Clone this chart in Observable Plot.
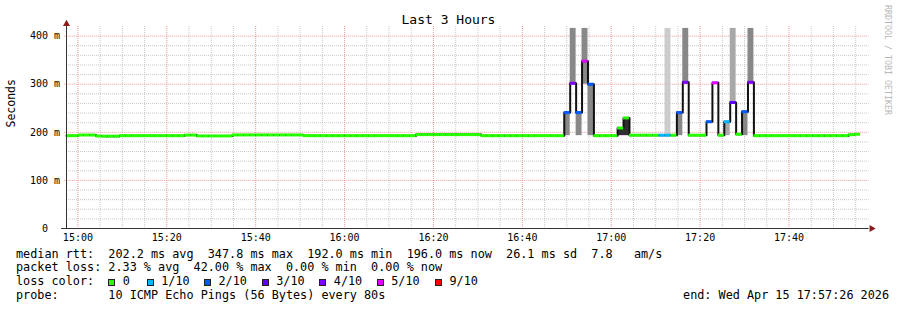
<!DOCTYPE html>
<html>
<head>
<meta charset="utf-8">
<script src="https://cdn.jsdelivr.net/npm/d3@7"></script>
<script src="https://cdn.jsdelivr.net/npm/@observablehq/plot@0.6"></script>
<style>
  body { margin: 0; background: #fff; }
  #wrap { position: relative; width: 897px; height: 310px; overflow: hidden; font-family: "DejaVu Sans Mono", monospace; color: #000; background: #fff; }
  #title { position: absolute; left: 0; top: 12px; width: 897px; text-align: center; font-size: 13px; line-height: 15px; }
  #chart { position: absolute; left: 0; top: 0; }
  #mark { position: absolute; left: 883px; top: 5px; writing-mode: vertical-rl; font-size: 8.3px; line-height: 9px; color: #b8b8b8; white-space: pre; }
  #legend { position: absolute; left: 16px; top: 247.5px; font-size: 11.8px; line-height: 13.8px; white-space: pre; }
  #legend > div { position: relative; height: 13.8px; }
  .item { position: absolute; top: 0; }
  .box { position: absolute; width: 5px; height: 5px; border: 1px solid #222; top: 3.5px; }
  #end { position: absolute; right: 8px; top: 0; font-size: 11.8px; line-height: 13.8px; white-space: pre; }
</style>
</head>
<body>
<div id="wrap">
  <div id="chart"></div>
  <div id="title"></div>
  <div id="mark"></div>
  <div id="legend"></div>
</div>
<script>
// ---------- data ----------
const titleText = "Last 3 Hours";
const yAxisLabel = "Seconds";
const watermark = "RRDTOOL / TOBI OETIKER";
const chartStart = new Date("2026-04-15T14:57:26Z");
const chartEnd = new Date("2026-04-15T17:57:26Z");
const stepSeconds = 80;

// median round-trip time per 80 s step (ms), step 0 starts at chartStart
const medianMs = [
  193, 193, 194.4, 194.4, 194.4, 192.3, 192, 192, 192, 193,
  193, 193, 193, 193, 193, 193, 193, 193, 193, 193,
  194.2, 194.2, 192.5, 192.5, 192.5, 192.5, 192.5, 192.5, 194.6, 194.6,
  194.6, 194.6, 194.6, 194.6, 194.6, 194.6, 194.6, 194.6, 194.6, 194.6,
  193, 193, 193, 193, 193, 193, 193, 193, 193, 193,
  193, 193, 193, 193, 193, 193, 193, 193, 193, 195.2,
  195.2, 195.2, 195.2, 195.2, 195.2, 195.2, 195.2, 195.2, 195.2, 195.2,
  193, 193, 193, 193, 193, 193, 193, 193, 193, 193,
  193, 193, 193, 193, 241, 302, 241, 348, 300, 193,
  193, 193, 193, 209, 230, 194, 194, 194, 194, 194,
  194, 194, 194, 241, 304, 194, 194, 194, 222, 303,
  194, 222, 262, 196, 243, 304, 193, 193, 193, 193,
  193, 193, 193, 193, 193, 193, 193, 193, 193, 193,
  193, 193, 195, 196
];
// lost pings (out of 10) per step
const lossCount = [
  0,0,0,0,0,0,0,0,0,0,
  0,0,0,0,0,0,0,0,0,0,
  0,0,0,0,0,0,0,0,0,0,
  0,0,0,0,0,0,0,0,0,0,
  0,0,0,0,0,0,0,0,0,0,
  0,0,0,0,0,0,0,0,0,0,
  0,0,0,0,0,0,0,0,0,0,
  0,0,0,0,0,0,0,0,0,0,
  0,0,0,0,2,4,2,5,2,0,
  0,0,0,0,0,0,0,0,0,0,
  1,1,0,2,4,0,0,0,2,5,
  0,1,3,0,2,4,0,0,0,0,
  0,0,0,0,0,0,0,0,0,0,
  0,0,0,0
];
// smoke (ping spread) bands
const smokeStep  = [84, 85, 86, 87, 88, 93, 94, 101, 103, 104, 111, 112, 114, 115];
const smokeLow   = [193, 302, 193, 300, 193, 193, 193, 194, 193, 304, 193, 262, 193, 304];
const smokeHigh  = [241, 416, 241, 416, 300, 209, 230, 416, 241, 416, 222, 416, 243, 416];
const smokeShade = ["#888888","#888888","#888888","#888888","#888888","#2e2e2e","#2e2e2e","#cccccc","#888888","#888888","#a8a8a8","#a8a8a8","#888888","#888888"];

const lossLevels = [0, 1, 2, 3, 4, 5, 9];
const lossLabels = ["0", "1/10", "2/10", "3/10", "4/10", "5/10", "9/10"];
const lossColors = ["#26ff00", "#00b8ff", "#0059ff", "#5e00ff", "#7e00ff", "#dd00ff", "#ff0000"];

const xTickLabels = ["15:00", "15:20", "15:40", "16:00", "16:20", "16:40", "17:00", "17:20", "17:40"];
const yTicks = [0, 100, 200, 300, 400];
const yTickLabels = ["0\u00a0\u00a0", "100 m", "200 m", "300 m", "400 m"];
const yMax = 420;

const rttLegend = ["median rtt:", "202.2 ms avg", "347.8 ms max", "192.0 ms min", "196.0 ms now", "26.1 ms sd", "7.8   am/s"];
const lossLegend = ["packet loss: 2.33 % avg", "42.00 % max", "0.00 % min", "0.00 % now"];
const probeText = "probe:       10 ICMP Echo Pings (56 Bytes) every 80s";
const endText = "end: Wed Apr 15 17:57:26 2026";

// ---------- build tables ----------
const stepMs = stepSeconds * 1000;
const steps = medianMs.map((m, i) => ({
  start: new Date(+chartStart + i * stepMs),
  end: new Date(+chartStart + (i + 1) * stepMs),
  median: m,
  color: lossColors[lossLevels.indexOf(lossCount[i])]
}));
const smoke = smokeStep.map((s, i) => ({
  start: new Date(+chartStart + s * stepMs),
  end: new Date(+chartStart + (s + 1) * stepMs),
  lo: smokeLow[i], hi: smokeHigh[i], fill: smokeShade[i]
}));
const xTicks = xTickLabels.map(s => new Date(`2026-04-15T${s}:00Z`));
const fiveMin = d3.utcMinute.every(5).range(chartStart, chartEnd);
const minorX = fiveMin.filter(d => d.getUTCMinutes() % 20 !== 0);
const majorX = fiveMin.filter(d => d.getUTCMinutes() % 20 === 0);
const minorY = d3.range(20, yMax, 20).filter(v => v % 100 !== 0);
const majorY = yTicks.filter(v => v > 0);
const minute = 60000;

const plot = Plot.plot({
  width: 897,
  height: 245,
  marginLeft: 66,
  marginRight: 31,
  marginTop: 26,
  marginBottom: 17,
  style: { fontFamily: "DejaVu Sans Mono, monospace", fontSize: "10px", background: "transparent", color: "#000" },
  x: { type: "utc", domain: [chartStart, chartEnd] },
  y: { domain: [0, yMax] },
  marks: [
    Plot.ruleX(minorX, { stroke: "#c8c8c8", strokeDasharray: "1,1" }),
    Plot.ruleY(minorY, { x1: chartStart, x2: new Date(+chartEnd + 0.6 * minute), stroke: "#c8c8c8", strokeDasharray: "1,1" }),
    Plot.ruleX(majorX, { stroke: "#eb9a9a", strokeDasharray: "1,1" }),
    Plot.ruleY(majorY, { x1: new Date(+chartStart - 0.4 * minute), x2: new Date(+chartEnd + 0.6 * minute), stroke: "#eb9a9a", strokeDasharray: "1,1" }),
    Plot.rect(smoke, { x1: "start", x2: "end", y1: "lo", y2: "hi", fill: "fill" }),
    Plot.line(steps, { x: "start", y: "median", curve: "step-after", stroke: "#111", strokeWidth: 2 }),
    Plot.ruleY(steps, { y: "median", x1: "start", x2: "end", stroke: "color", strokeWidth: 3 }),
    Plot.ruleY([0], { x1: new Date(+chartStart - 1.1 * minute), x2: new Date(+chartEnd + 0.6 * minute), stroke: "#333" }),
    Plot.ruleX([chartStart], { y1: 0, y2: yMax + 4, stroke: "#333" }),
    Plot.dot([chartStart], { x: d => d, y: yMax + 5.5, symbol: "triangle", r: 2.6, fill: "#8b1c1c", stroke: null }),
    Plot.dot([chartEnd], { x: d => new Date(+d + 1.15 * minute), y: 0, symbol: "triangle", r: 2.6, rotate: 90, fill: "#8b1c1c", stroke: null }),
    Plot.axisX({ ticks: xTicks, tickFormat: d3.utcFormat("%H:%M"), tickSize: 0, tickPadding: 5, fill: "#000" }),
    Plot.axisY({ ticks: yTicks, tickFormat: d => yTickLabels[yTicks.indexOf(d)], tickSize: 0, tickPadding: 6.5, fill: "#000", label: null }),
    Plot.text([yAxisLabel], { frameAnchor: "left", dx: -55, rotate: -90, fontSize: 11.5, fill: "#000" })
  ]
});
document.getElementById("chart").appendChild(plot);

// ---------- texts ----------
document.getElementById("title").textContent = titleText;
document.getElementById("mark").textContent = watermark;

const legend = document.getElementById("legend");
const l1 = document.createElement("div"); l1.textContent = rttLegend[0] + "  " + rttLegend.slice(1).join("  ");
const l2 = document.createElement("div"); l2.textContent = lossLegend.join("  ");
const l3 = document.createElement("div");
const lab = document.createElement("span"); lab.className = "item"; lab.style.left = "0px"; lab.textContent = "loss color:"; l3.appendChild(lab);
const boxLeft = [92.3, 130.7, 188, 245.7, 303.3, 360.7, 419];
lossLabels.forEach((t, i) => {
  const b = document.createElement("span"); b.className = "box";
  b.style.left = boxLeft[i] + "px"; b.style.background = lossColors[i];
  l3.appendChild(b);
  const s = document.createElement("span"); s.className = "item";
  s.style.left = (boxLeft[i] + 14.5) + "px"; s.textContent = t;
  l3.appendChild(s);
});
const l4 = document.createElement("div"); l4.textContent = probeText;
legend.append(l1, l2, l3, l4);
const end = document.createElement("div"); end.id = "end"; end.textContent = endText;
end.style.top = (247.5 + 3 * 13.8) + "px";
document.getElementById("wrap").appendChild(end);
</script>
</body>
</html>
